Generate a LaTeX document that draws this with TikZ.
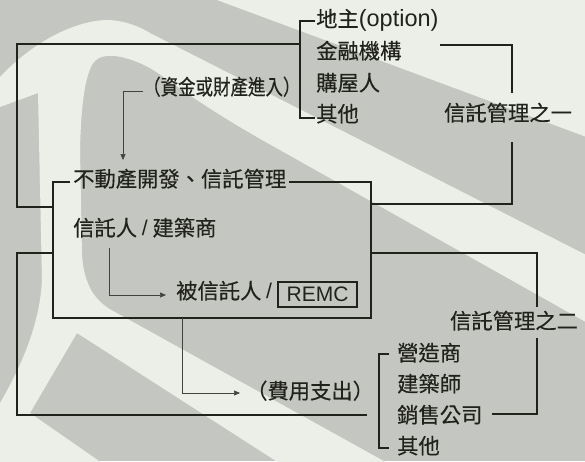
\documentclass[tikz,border=0pt]{standalone}
\usepackage{fontspec}
\usepackage{graphicx}
\setmainfont{Noto Sans CJK TC}[FakeBold=0.4]
\newfontfamily\latinfont{Liberation Sans}
\usetikzlibrary{arrows.meta,calc}
\definecolor{ink}{RGB}{34,34,28}
\definecolor{bggray}{RGB}{196,199,193}
\definecolor{bgwhite}{RGB}{236,238,232}
\newcommand\dfs{\fontsize{21.3}{24}\selectfont}
\tikzset{
  lab/.style={inner sep=0pt, anchor=west, font=\dfs, text=ink, text height=0.88em, text depth=0.12em},
  ln/.style={line width=1.3pt, draw=ink},
  arr/.style={line width=0.6pt, draw=ink!85, -{Triangle[length=6pt,width=5pt]}},
}
\begin{document}
\begin{tikzpicture}[x=1pt,y=-1pt]
\useasboundingbox (0,0) rectangle (585,461);
% background watermark
\fill[bggray] (0,0) rectangle (585,461);
\fill[bgwhite] (-10,77) -- (0,77) .. controls (30,45) and (70,22) .. (105,20)
  .. controls (125,20) and (140,27) .. (150,33) -- (600,262) -- (600,330) -- (280,150)
  .. controls (200,106) and (170,80) .. (150,68) .. controls (125,55) and (100,50) .. (92,65)
  .. controls (84,80) and (81,110) .. (80,150) -- (82,255)
  .. controls (84,285) and (95,302) .. (115,312) -- (400,470) -- (290,470) -- (77,333)
  -- (30,413) -- (112,470) -- (-10,470) -- (-10,403) -- (0,403)
  .. controls (25,360) and (40,320) .. (42,280) -- (38,93) -- (0,107) -- (-10,107) -- cycle;
\fill[bgwhite] (190,-10) -- (600,-10) -- (600,142) -- cycle;

% texts
\node[lab] (l1a) at (316,23) {地主{\latinfont\fontsize{23.5}{26}\selectfont(option)}};
\node[lab] (l1b) at (316,55) {金融機構};
\node[lab] (l1c) at (316,87) {購屋人};
\node[lab] (l1d) at (316,118) {其他};
\node[lab,anchor=center] (tm1) at (508,117) {信託管理之一};
\node[lab,anchor=center] (tm2) at (514,325) {信託管理之二};
\node[lab,inner xsep=3pt] (title) at (70,183) {不動產開發、信託管理};
\node[lab] (trustor) at (73,232) {信託人 {\latinfont/} 建築商};
\node[lab] (trustee) at (176,295) {被信託人 {\latinfont/}};
\node[draw=ink,line width=1.2pt,minimum width=79pt,minimum height=25pt,inner sep=0pt,font=\latinfont\fontsize{21}{24}\selectfont,text=ink] (remc) at (317.5,294.5) {REMC};
\node[lab] (fund) at (143,91) {\scalebox{0.82}[1]{（資金或財產進入）}};
\node[lab] (cost) at (246,395) {（費用支出）};
\node[lab] (l2a) at (397,357) {營造商};
\node[lab] (l2b) at (397,388) {建築師};
\node[lab] (l2c) at (397,419) {銷售公司};
\node[lab] (l2d) at (397,450) {其他};

% coordinates
\coordinate (NW) at (53,182);
\coordinate (NE) at (371,182);
\coordinate (SW) at (53,318);
\coordinate (SE) at (371,318);
\coordinate (b1t) at (315,21);
\coordinate (b1tl) at (300,21);
\coordinate (b1bl) at (300,118);
\coordinate (b1b) at (315,118);
\coordinate (b1m) at (300,44);
\coordinate (topL) at (17,44);
\coordinate (loopL) at (17,207);
\coordinate (boxL1) at (53,207);
\coordinate (boxL2) at (53,253);
\coordinate (loop2a) at (17,253);
\coordinate (loop2b) at (17,415);
\coordinate (loop2c) at (367,415);
\coordinate (r1a) at (440,45);
\coordinate (r1b) at (512,45);
\coordinate (r1c) at (512,93);
\coordinate (r1d) at (512,142);
\coordinate (r1e) at (512,204);
\coordinate (boxR1) at (371,204);
\coordinate (boxR2) at (371,253);
\coordinate (r2a) at (537,253);
\coordinate (r2b) at (537,307);
\coordinate (r2c) at (537,338);
\coordinate (r2d) at (537,414);
\coordinate (r2e) at (492,414);
\coordinate (b2t) at (389,354);
\coordinate (b2tl) at (379,354);
\coordinate (b2bl) at (379,448);
\coordinate (b2b) at (389,448);
\coordinate (fa) at (123,91);
\coordinate (ftip) at (123,160);
\coordinate (a2s) at (109,248);
\coordinate (a2c) at (109,295);
\coordinate (a3s) at (182,318);
\coordinate (a3c) at (182,393);

% box with title on top edge
\draw[ln] (title.west |- NW) -- (NW) -- (SW) -- (SE) -- (NE) -- (title.east |- NE);
% bracket 1
\draw[ln] (b1t) -- (b1tl) -- (b1bl) -- (b1b);
% top loop
\draw[ln] (boxL1) -- (loopL) -- (topL) -- (b1m);
% right part one
\draw[ln] (r1a) -- (r1b) -- (r1c);
\draw[ln] (r1d) -- (r1e) -- (boxR1);
% lower loop
\draw[ln] (boxL2) -- (loop2a) -- (loop2b) -- (loop2c);
% right part two
\draw[ln] (boxR2) -- (r2a) -- (r2b);
\draw[ln] (r2c) -- (r2d) -- (r2e);
% bracket 2
\draw[ln] (b2t) -- (b2tl) -- (b2bl) -- (b2b);
% arrows
\draw[arr] (fund.west) -- (fa) -- (ftip);
\draw[arr,shorten >=10pt] (a2s) -- (a2c) -- (a2c -| trustee.west);
\draw[arr,shorten >=6pt] (a3s) -- (a3c) -- (a3c -| cost.west);
\end{tikzpicture}
\end{document}
